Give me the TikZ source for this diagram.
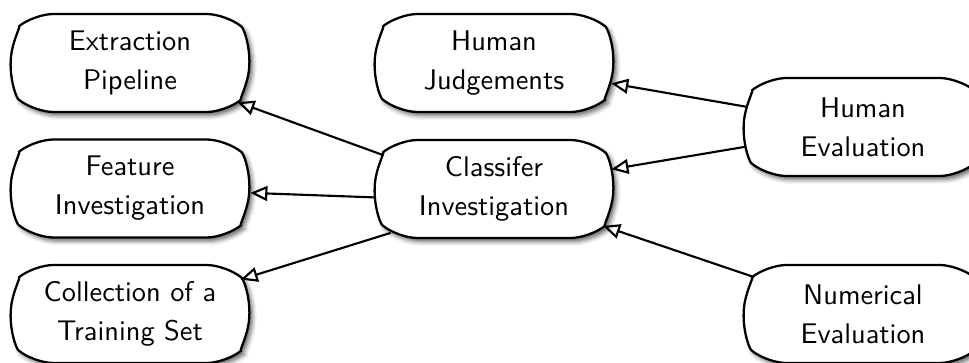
\documentclass[tikz,border=0pt]{standalone}
\usetikzlibrary{shapes.misc,arrows.meta,shadows.blur}
\begin{document}
\begin{tikzpicture}[x=0.352pt,y=-0.352pt,
  box/.style={rounded rectangle, rounded rectangle arc length=100, rounded corners=7pt, draw, line width=0.8pt,
    fill=white, minimum width=84pt, minimum height=34.5pt, inner sep=0pt, align=center,
    font=\sffamily\fontsize{10}{13.7}\selectfont,
    blur shadow={shadow xshift=1.1pt, shadow yshift=-1.3pt, shadow blur radius=1.5pt, shadow opacity=60}},
  arr/.style={-{Triangle[open,length=6pt,width=5.2pt]}, line width=0.75pt, rounded corners=0pt}]
\useasboundingbox (0,0) rectangle (969,363);
\node[box] (E)  at (130,63)  {Extraction\\Pipeline};
\node[box] (F)  at (130,188.5) {Feature\\Investigation};
\node[box] (T)  at (130,314) {Collection of a\\Training Set};
\node[box] (HJ) at (494,63)  {Human\\Judgements};
\node[box] (C)  at (494,189) {Classifer\\Investigation};
\node[box] (HE) at (863,127) {Human\\Evaluation};
\node[box] (N)  at (863,314) {Numerical\\Evaluation};
\draw[arr] (C.163) -- (E);
\draw[arr] (C.184) -- (F);
\draw[arr] (C.203) -- (T);
\draw[arr] (HE) -- (HJ);
\draw[arr] (HE) -- (C);
\draw[arr] (N) -- (C);
\end{tikzpicture}
\end{document}
